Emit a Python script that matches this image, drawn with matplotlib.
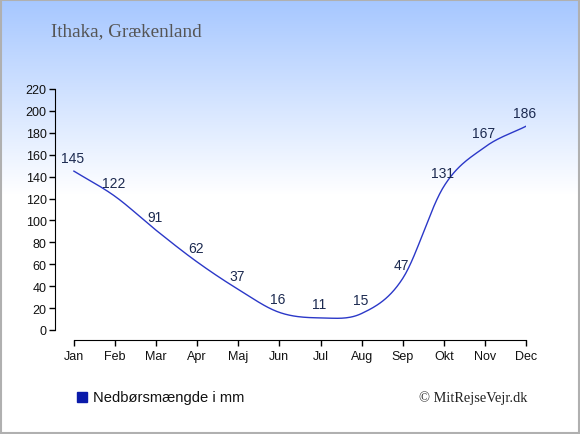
import numpy as np
import matplotlib
matplotlib.use("Agg")
import matplotlib.pyplot as plt
from matplotlib.patches import Rectangle

months = ["Jan", "Feb", "Mar", "Apr", "Maj", "Jun", "Jul", "Aug", "Sep", "Okt", "Nov", "Dec"]
rain = [145, 122, 91, 62, 37, 16, 11, 15, 47, 131, 167, 186]
yticks = list(range(0, 221, 20))
title = "Ithaka, Grækenland"
legend_label = "Nedbørsmængde i mm"
credit = "© MitRejseVejr.dk"

plt.rcParams["font.family"] = ["Liberation Sans", "DejaVu Sans"]


def smooth(xs, ys, n=30):
    # catmull-rom curve through the points
    xs = np.asarray(xs, float)
    ys = np.asarray(ys, float)
    px = np.concatenate([[2 * xs[0] - xs[1]], xs, [2 * xs[-1] - xs[-2]]])
    py = np.concatenate([[2 * ys[0] - ys[1]], ys, [2 * ys[-1] - ys[-2]]])
    ox, oy = [], []
    t = np.linspace(0, 1, n)
    for i in range(1, len(px) - 2):
        for p, o in ((px, ox), (py, oy)):
            p0, p1, p2, p3 = p[i - 1], p[i], p[i + 1], p[i + 2]
            o.extend(0.5 * ((2 * p1) + (-p0 + p2) * t
                            + (2 * p0 - 5 * p1 + 4 * p2 - p3) * t ** 2
                            + (-p0 + 3 * p1 - 3 * p2 + p3) * t ** 3))
    return np.array(ox), np.array(oy)


fig = plt.figure(figsize=(5.8, 4.35), dpi=100)

# background gradient
bg = fig.add_axes([0, 0, 1, 1], zorder=-10)
h = 435
frac = np.clip(np.arange(h) / 195.0, 0, 1)[:, None]
top = np.array([0.65, 0.78, 1.0])
grad = top * (1 - frac[..., None]) + np.ones(3) * frac[..., None]
grad = np.repeat(grad, 2, axis=1)
bg.imshow(grad, aspect="auto", extent=[0, 1, 0, 1], origin="upper")
bg.add_patch(Rectangle((0.001, 0.002), 0.997, 0.995, fill=False, edgecolor="#b0b0b0", lw=1.5,
                       transform=bg.transAxes))
bg.set_xlim(0, 1)
bg.set_ylim(0, 1)
bg.axis("off")

ax = fig.add_axes([55 / 580, 1 - 341 / 435, (526 - 55) / 580, (341 - 90) / 435])
ax.patch.set_alpha(0)
x = np.arange(len(months))
sx, sy = smooth(x, rain)
ax.plot(sx, sy, color="#2b38c8", lw=1.0)
for xi, v in zip(x, rain):
    ax.text(xi - 0.03, v + 6, str(v), ha="center", va="bottom", fontsize=10, color="#1c2a50")

ax.set_xlim(-0.46, 11)
ax.set_ylim(-9.2, 220)
ax.spines["top"].set_visible(False)
ax.spines["right"].set_visible(False)
ax.spines["left"].set_bounds(0, 220)
ax.spines["bottom"].set_bounds(0, 11)
ax.set_yticks(yticks)
ax.set_xticks(x)
ax.set_xticklabels(months)
ax.tick_params(axis="both", labelsize=9, length=4, width=1, color="black", labelcolor="#111111")
ax.tick_params(axis="y", pad=2)
ax.tick_params(axis="x", pad=3)

fig.text(51 / 580, 1 - 32 / 435, title, fontsize=13.8, family="Liberation Serif", color="#555555",
         ha="left", va="center")
fig.patches.append(Rectangle((77 / 580, 1 - 403 / 435), 10 / 580, 10 / 435, color="#0a1aaa",
                             transform=fig.transFigure, figure=fig))
fig.text(93 / 580, 1 - 398 / 435, legend_label, fontsize=10.6, color="#111111", ha="left", va="center")
fig.text(527 / 580, 1 - 398 / 435, credit, fontsize=10.4, family="Liberation Serif", color="#222222",
         ha="right", va="center")

fig.savefig("out.png", dpi=100)
